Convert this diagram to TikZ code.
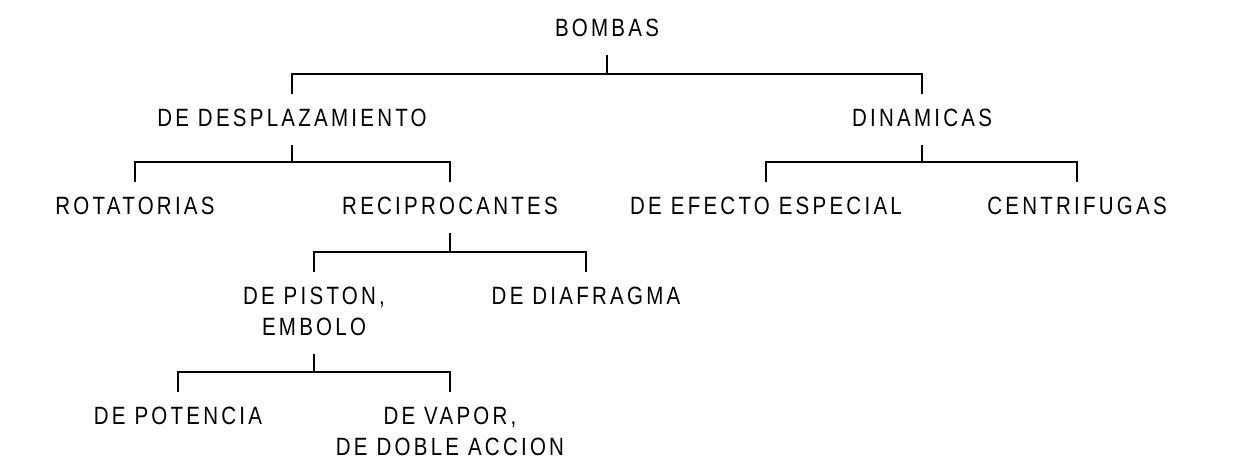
\documentclass[tikz,border=0pt]{standalone}
\usepackage{fontspec}
\setmainfont{Liberation Sans}[FakeStretch=0.82,LetterSpace=13]
\begin{document}
\begin{tikzpicture}[x=1pt,y=1pt,
  lbl/.style={anchor=north,inner sep=0pt,text depth=0pt,align=center,
    font=\fontsize{25}{31}\selectfont},
  conn/.style={line width=1.2pt,black}]
\useasboundingbox[fill=white] (0,0) rectangle (1234,-474);
\node[lbl] (bombas) at (607,-19) {BOMBAS};
\node[lbl] (desp)   at (292,-109) {DE DESPLAZAMIENTO};
\node[lbl] (dinam)  at (922,-109) {DINAMICAS};
\node[lbl] (rot)    at (135,-197) {ROTATORIAS};
\node[lbl] (recip)  at (450,-197) {RECIPROCANTES};
\node[lbl] (efecto) at (766,-197) {DE EFECTO ESPECIAL};
\node[lbl] (centri) at (1077,-197) {CENTRIFUGAS};
\node[lbl] (piston) at (314,-287) {DE PISTON,\\EMBOLO};
\node[lbl] (diafr)  at (586,-287) {DE DIAFRAGMA};
\node[lbl] (poten)  at (178,-407) {DE POTENCIA};
\node[lbl] (vapor)  at (450,-407) {DE VAPOR,\\DE DOBLE ACCION};
\foreach \p/\c in {bombas/desp,bombas/dinam,desp/rot,desp/recip,dinam/efecto,dinam/centri,recip/piston,recip/diafr,piston/poten,piston/vapor}
  \draw[conn] ([yshift=-18pt]\p.south) |- ([yshift=35pt]\c.north) -- ([yshift=15pt]\c.north);
\end{tikzpicture}
\end{document}
